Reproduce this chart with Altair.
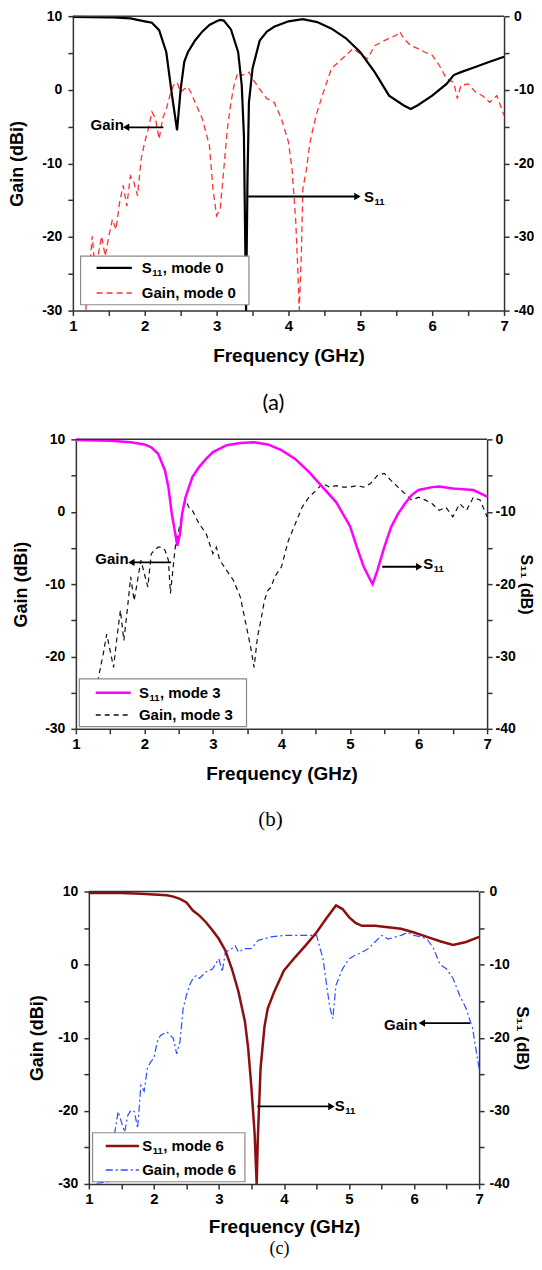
import altair as alt
import pandas as pd

FONT = "Liberation Sans"
AXC = "#333333"

# ---------------- data: panel (a), mode 0 ----------------
a_s11_f = [1.0, 1.5, 1.8, 2.0, 2.1, 2.2, 2.3, 2.38, 2.45, 2.5, 2.55, 2.6, 2.7, 2.8, 2.9, 3.0, 3.05,
           3.1, 3.2, 3.3, 3.35, 3.38, 3.41, 3.43, 3.45, 3.5, 3.6, 3.7, 3.8, 4.0, 4.2, 4.4, 4.6, 4.8,
           5.0, 5.2, 5.4, 5.6, 5.7, 5.8, 6.0, 6.2, 6.3, 6.4, 6.6, 6.8, 7.0]
a_s11 = [-0.1, -0.15, -0.3, -0.7, -0.9, -1.9, -4.9, -10.8, -15.5, -9.9, -6.2, -4.9, -3.3, -2.1, -1.2,
         -0.7, -0.5, -0.6, -1.8, -4.9, -9.4, -16.2, -40.0, -22.0, -11.7, -7.1, -3.3, -2.1, -1.45, -0.7,
         -0.4, -0.8, -1.7, -3.0, -4.9, -7.6, -10.8, -12.1, -12.6, -12.1, -10.8, -9.2, -8.0, -7.6, -6.9,
         -6.2, -5.5]
a_gain_f = [1.18, 1.27, 1.3, 1.35, 1.4, 1.45, 1.5, 1.55, 1.6, 1.65, 1.7, 1.75, 1.8, 1.85, 1.9, 1.95,
            2.0, 2.05, 2.1, 2.15, 2.2, 2.25, 2.3, 2.35, 2.4, 2.45, 2.5, 2.55, 2.6, 2.65, 2.7, 2.8, 2.9,
            2.95, 3.0, 3.05, 3.1, 3.15, 3.2, 3.25, 3.3, 3.35, 3.45, 3.5, 3.6, 3.7, 3.8, 3.9, 4.0, 4.05,
            4.1, 4.13, 4.15, 4.18, 4.2, 4.25, 4.3, 4.35, 4.4, 4.5, 4.6, 4.7, 4.8, 4.9, 5.0, 5.1, 5.2,
            5.3, 5.4, 5.5, 5.55, 5.6, 5.7, 5.8, 5.9, 6.0, 6.1, 6.2, 6.3, 6.35, 6.4, 6.5, 6.6, 6.7, 6.8,
            6.9, 7.0]
a_gain = [-29.9, -19.9, -23.5, -22.6, -19.9, -22.6, -19.9, -17.6, -19.0, -15.3, -13.0, -15.8, -11.7,
          -12.6, -14.4, -9.4, -7.1, -5.3, -3.0, -3.9, -6.7, -3.9, -2.6, -0.8, 0.6, 1.0, -0.3, 0.1, 0.4,
          -0.5, -1.7, -3.9, -7.6, -13.5, -17.1, -16.2, -10.8, -5.3, -1.7, 1.0, 2.4, 1.95, 2.4, 1.5, 0.1,
          -1.2, -1.7, -3.9, -7.1, -10.8, -17.6, -24.4, -29.9, -22.1, -13.5, -10.8, -7.1, -4.9, -3.0,
          0.1, 2.9, 3.8, 4.7, 5.6, 4.9, 4.2, 6.0, 6.5, 7.0, 7.4, 7.9, 7.0, 6.0, 5.6, 5.1, 4.7, 3.3, 1.5,
          1.0, -1.2, 0.6, 0.8, -0.3, -0.8, -1.7, -0.8, -3.5]

# ---------------- data: panel (b), mode 3 ----------------
b_s11_f = [1.0, 1.5, 1.8, 2.0, 2.1, 2.2, 2.3, 2.35, 2.4, 2.45, 2.48, 2.52, 2.55, 2.6, 2.7, 2.8, 2.9,
           3.0, 3.2, 3.4, 3.6, 3.8, 4.0, 4.2, 4.4, 4.6, 4.8, 5.0, 5.1, 5.2, 5.3, 5.33, 5.4, 5.5, 5.6,
           5.7, 5.8, 5.9, 6.0, 6.2, 6.3, 6.5, 6.8, 7.0]
b_s11 = [-0.1, -0.2, -0.4, -0.7, -1.1, -2.0, -4.3, -6.6, -10.3, -13.0, -14.7, -13.0, -10.3, -8.0,
         -5.2, -3.8, -2.7, -1.75, -0.8, -0.5, -0.4, -0.7, -1.5, -2.7, -4.5, -6.6, -8.7, -12.0, -14.9,
         -17.6, -19.5, -20.0, -18.1, -14.9, -12.1, -10.3, -8.9, -7.7, -7.0, -6.6, -6.5, -6.8, -7.0,
         -7.9]
b_gain_f = [1.3, 1.33, 1.4, 1.45, 1.5, 1.55, 1.6, 1.65, 1.7, 1.75, 1.8, 1.85, 1.9, 1.95, 2.0, 2.05,
            2.1, 2.15, 2.2, 2.25, 2.3, 2.35, 2.38, 2.42, 2.45, 2.5, 2.55, 2.6, 2.65, 2.7, 2.8, 2.9,
            3.0, 3.05, 3.1, 3.2, 3.3, 3.4, 3.5, 3.55, 3.6, 3.65, 3.7, 3.75, 3.8, 3.85, 3.9, 4.0, 4.1,
            4.2, 4.3, 4.4, 4.5, 4.6, 4.7, 4.8, 4.9, 5.0, 5.1, 5.2, 5.3, 5.4, 5.5, 5.6, 5.7, 5.8, 5.9,
            6.0, 6.1, 6.2, 6.3, 6.4, 6.5, 6.6, 6.7, 6.8, 6.9, 7.0]
b_gain = [-26.0, -22.9, -19.6, -16.9, -19.2, -21.5, -17.3, -13.6, -17.8, -13.6, -9.0, -12.3, -9.5,
          -6.7, -8.6, -10.4, -5.8, -5.3, -4.9, -4.9, -5.3, -6.7, -11.3, -7.6, -4.9, -2.6, -0.3, 1.6,
          0.6, 0.2, -1.7, -3.0, -5.8, -4.9, -6.7, -8.1, -9.5, -11.8, -16.4, -18.7, -21.5, -17.3,
          -15.0, -12.3, -10.9, -10.4, -9.0, -7.6, -4.0, -1.7, 0.6, 2.0, 2.9, 3.9, 3.4, 3.6, 3.4, 3.4,
          3.6, 3.4, 3.9, 5.0, 5.3, 4.3, 3.4, 2.5, 1.6, 2.0, 1.6, 1.1, 0.2, 0.6, -0.7, 1.1, 0.2, 2.0,
          1.6, -0.7]

# ---------------- data: panel (c), mode 6 ----------------
c_s11_f = [1.0, 1.5, 1.8, 2.0, 2.2, 2.3, 2.4, 2.5, 2.6, 2.7, 2.8, 2.9, 3.0, 3.1, 3.2, 3.3, 3.4, 3.45,
           3.5, 3.55, 3.58, 3.6, 3.64, 3.7, 3.75, 3.85, 4.0, 4.17, 4.33, 4.5, 4.65, 4.8, 4.9, 5.0,
           5.1, 5.2, 5.4, 5.6, 5.8, 6.0, 6.2, 6.4, 6.6, 6.7, 6.8, 7.0]
c_s11 = [-0.2, -0.2, -0.3, -0.4, -0.5, -0.7, -1.0, -1.5, -2.6, -3.3, -4.2, -5.3, -6.5, -8.1, -10.6,
         -13.7, -17.8, -21.5, -26.9, -33.3, -40.0, -33.3, -24.2, -18.5, -16.0, -13.7, -10.8, -9.0,
         -7.4, -5.6, -3.7, -1.9, -2.4, -3.5, -4.3, -4.7, -4.7, -4.9, -5.1, -5.6, -6.2, -6.8, -7.3,
         -7.1, -6.9, -6.2]
c_gain_f = [1.12, 1.3, 1.4, 1.45, 1.5, 1.55, 1.6, 1.65, 1.7, 1.75, 1.8, 1.85, 1.9, 1.95, 2.0, 2.05,
            2.1, 2.2, 2.3, 2.35, 2.4, 2.45, 2.5, 2.55, 2.6, 2.65, 2.7, 2.8, 2.9, 3.0, 3.05, 3.1, 3.2,
            3.25, 3.3, 3.4, 3.5, 3.6, 3.8, 4.0, 4.2, 4.4, 4.5, 4.6, 4.7, 4.75, 4.8, 4.9, 5.0, 5.1,
            5.2, 5.3, 5.4, 5.5, 5.6, 5.8, 5.9, 6.0, 6.1, 6.2, 6.3, 6.4, 6.5, 6.6, 6.7, 6.8, 6.85,
            6.9, 6.95, 7.0]
c_gain = [-29.9, -29.7, -22.9, -20.1, -21.5, -22.9, -20.6, -19.9, -20.1, -22.4, -16.5, -17.3, -14.2,
          -13.3, -12.8, -10.6, -9.7, -9.2, -10.1, -12.2, -10.6, -6.0, -4.2, -2.8, -1.9, -1.5, -1.9,
          -1.0, -0.6, 0.8, -1.0, 1.7, 2.2, 2.6, 1.7, 2.2, 2.2, 3.3, 3.8, 4.0, 4.0, 4.0, 4.0, 0.8,
          -5.6, -7.4, -2.8, -0.6, 0.8, 1.3, 1.7, 2.2, 3.1, 4.0, 3.5, 4.0, 4.4, 4.0, 3.8, 3.5, 2.2,
          0.0, -0.6, -1.9, -4.2, -6.0, -7.4, -8.7, -11.5, -14.2]

# ---------------- axis tick values ----------------
x_ticks = [1 + 0.5 * i for i in range(13)]
gain_ticks = list(range(-30, 11, 5))
s11_ticks = list(range(-40, 1, 5))

S11_TITLE = "S\u2081\u2081 (dB)"

PANELS = [
    dict(s11_f=a_s11_f, s11=a_s11, gain_f=a_gain_f, gain=a_gain, mode="0",
         w=432, h=295, shift=0, tpl=14.8, tpr=6, lpr=4.5, rtitle=None, rtsize=18, xtp=13,
         s11_color="#000000", s11_width=2.2, gain_color="#ff3030", gain_dash=[6, 4], gain_width=1.3,
         box=(1.107, 3.45, -22.6, -29.2), lines=(1.33, 1.82, -24.2, -27.6), ltext=1.96,
         gtext=(1.71, -4.8), garrow=(2.26, 1.74, -5.1), sarrow=(3.44, 4.96, -14.5), stext=(5.05, -14.6),
         cap="(a)", cap_font="Lato", cap_size=22, cap_x=201, cap_y=388, top_pad=None),
    dict(s11_f=b_s11_f, s11=b_s11, gain_f=b_gain_f, gain=b_gain, mode="3",
         w=415, h=290, shift=3, tpl=13.8, tpr=2, lpr=3, rtitle=S11_TITLE, rtsize=16, xtp=13,
         s11_color="#ff00ff", s11_width=2.5, gain_color="#111111", gain_dash=[5, 4], gain_width=1.2,
         box=(1.05, 3.49, -23.1, -29.7), lines=(1.29, 1.80, -25.0, -28.1), ltext=1.92,
         gtext=(1.77, -6.6), garrow=(2.39, 1.81, -7.0), sarrow=(5.47, 6.01, -7.6), stext=(6.07, -7.2),
         cap="(b)", cap_font="Liberation Serif", cap_size=21, cap_x=198, cap_y=381, top_pad=None),
    dict(s11_f=c_s11_f, s11=c_s11, gain_f=c_gain_f, gain=c_gain, mode="6",
         w=407, h=293, shift=16, tpl=10.8, tpr=3, lpr=5, rtitle=S11_TITLE, rtsize=17, xtp=11,
         s11_color="#8b1010", s11_width=2.5, gain_color="#2b4cff", gain_dash=[7, 3, 2, 3], gain_width=1.2,
         box=(1.057, 3.40, -23.0, -29.7), lines=(1.26, 1.77, -24.8, -28.1), ltext=1.82,
         gtext=(6.05, -8.2), garrow=(6.86, 6.12, -8.0), sarrow=(3.59, 4.73, -19.4), stext=(4.78, -19.4),
         cap="(c)", cap_font="Liberation Serif", cap_size=18, cap_x=207, cap_y=358, top_pad=43.5),
]

GAIN_SCALE = alt.Scale(domain=[-30, 10], nice=False, zero=False)
S11_SCALE = alt.Scale(domain=[-40, 0], nice=False, zero=False)


def make_panel(p):
    shift, w, h = p["shift"], p["w"], p["h"]
    xs = alt.Scale(domain=[1, 7], range=[shift, w], nice=False, zero=False)
    xaxis = alt.Axis(values=x_ticks, labelExpr="datum.value % 1 === 0 ? '' + datum.value : ''",
                     title="Frequency (GHz)", tickSize=5, labelPadding=3, titlePadding=p["xtp"],
                     labelFontSize=15, titleFontSize=19,
                     labelFlush=False, labelOverlap=False)
    X = alt.X("f:Q", scale=xs, axis=xaxis)
    Yg = alt.Y("v:Q", scale=GAIN_SCALE, axis=None)

    g_df = pd.DataFrame({"f": p["gain_f"], "v": p["gain"]})
    s_df = pd.DataFrame({"f": p["s11_f"], "v": p["s11"]})

    gain_line = alt.Chart(g_df).mark_line(
        color=p["gain_color"], strokeWidth=p["gain_width"], strokeDash=p["gain_dash"]
    ).encode(
        x=X,
        y=alt.Y("v:Q", scale=GAIN_SCALE,
                axis=alt.Axis(orient="left", values=gain_ticks,
                              labelExpr="datum.value % 10 === 0 ? '' + datum.value : ''",
                              title="Gain (dBi)", tickSize=5, labelPadding=6,
                              titlePadding=p["tpl"], offset=-shift, titleFontSize=18,
                              labelFlush=False, labelOverlap=False)),
    )
    s11_line = alt.Chart(s_df).mark_line(
        color=p["s11_color"], strokeWidth=p["s11_width"]
    ).encode(
        x=X,
        y=alt.Y("v:Q", scale=S11_SCALE,
                axis=alt.Axis(orient="right", values=s11_ticks,
                              labelExpr="datum.value % 10 === 0 ? '' + datum.value : ''",
                              title=p["rtitle"], tickSize=5, labelPadding=p["lpr"],
                              titlePadding=p["tpr"], titleFontSize=p["rtsize"],
                              labelFlush=False, labelOverlap=False)),
    )

    frame = alt.Chart(pd.DataFrame({"f": [1], "f2": [7], "v": [10]})).mark_rule(
        color=AXC, strokeWidth=1.5).encode(x=X, x2="f2:Q", y=Yg)

    ga, sa = p["garrow"], p["sarrow"]
    arrows = alt.Chart(pd.DataFrame({"f": [ga[0], sa[0]], "f2": [ga[1], sa[1]], "v": [ga[2], sa[2]]})
                       ).mark_rule(color="black", strokeWidth=1.8).encode(x=X, x2="f2:Q", y=Yg)
    head_l = alt.Chart(pd.DataFrame({"f": [ga[1]], "v": [ga[2]]})).mark_point(
        shape="triangle-left", filled=True, size=55, color="black", opacity=1).encode(x=X, y=Yg)
    head_r = alt.Chart(pd.DataFrame({"f": [sa[1]], "v": [sa[2]]})).mark_point(
        shape="triangle-right", filled=True, size=55, color="black", opacity=1).encode(x=X, y=Yg)

    bx = p["box"]
    box = alt.Chart(pd.DataFrame({"f": [bx[0]], "f2": [bx[1]], "v": [bx[2]], "v2": [bx[3]]})
                    ).mark_rect(fill="white", stroke="#8a8a8a", strokeWidth=1.2).encode(
        x=X, x2="f2:Q", y=Yg, y2="v2:Q")
    ln = p["lines"]
    leg_s = alt.Chart(pd.DataFrame({"f": [ln[0]], "f2": [ln[1]], "v": [ln[2]]})).mark_rule(
        color=p["s11_color"], strokeWidth=p["s11_width"]).encode(x=X, x2="f2:Q", y=Yg)
    leg_g = alt.Chart(pd.DataFrame({"f": [ln[0]], "f2": [ln[1]], "v": [ln[3]]})).mark_rule(
        color=p["gain_color"], strokeWidth=p["gain_width"] + 0.2, strokeDash=p["gain_dash"]).encode(
        x=X, x2="f2:Q", y=Yg)

    txt = dict(font=FONT, fontWeight="bold", color="black", baseline="middle")
    st = p["stext"]
    s_main = alt.Chart(pd.DataFrame({"f": [p["ltext"], st[0]], "v": [ln[2], st[1]],
                                     "t": ["S", "S"]})).mark_text(
        align="left", fontSize=15, **txt).encode(x=X, y=Yg, text="t:N")
    s_sub = alt.Chart(pd.DataFrame({"f": [p["ltext"], st[0]], "v": [ln[2], st[1]],
                                    "t": ["11", "11"]})).mark_text(
        align="left", fontSize=9.5, dx=10.5, dy=5, **txt).encode(x=X, y=Yg, text="t:N")
    s_rest = alt.Chart(pd.DataFrame({"f": [p["ltext"]], "v": [ln[2]],
                                     "t": [", mode " + p["mode"]]})).mark_text(
        align="left", fontSize=15, dx=21, **txt).encode(x=X, y=Yg, text="t:N")
    g_leg = alt.Chart(pd.DataFrame({"f": [p["ltext"]], "v": [ln[3]],
                                    "t": ["Gain, mode " + p["mode"]]})).mark_text(
        align="left", fontSize=15, **txt).encode(x=X, y=Yg, text="t:N")
    gt = p["gtext"]
    g_ann = alt.Chart(pd.DataFrame({"f": [gt[0]], "v": [gt[1]], "t": ["Gain"]})).mark_text(
        align="right", fontSize=15, **txt).encode(x=X, y=Yg, text="t:N")

    cap = alt.Chart(pd.DataFrame({"t": [p["cap"]]})).mark_text(
        font=p["cap_font"], fontSize=p["cap_size"], color="black", align="center",
        baseline="middle").encode(x=alt.value(p["cap_x"]), y=alt.value(p["cap_y"]), text="t:N")

    layers = [gain_line, s11_line, frame, arrows, head_l, head_r, box, leg_s, leg_g,
              s_main, s_sub, s_rest, g_leg, g_ann, cap]
    if p["top_pad"] is not None:
        spacer = alt.Chart(pd.DataFrame({"t": ["."]})).mark_text(
            fontSize=14, opacity=0, baseline="top", align="center").encode(
            x=alt.value(20), y=alt.value(-p["top_pad"]), text="t:N")
        layers.append(spacer)

    return alt.layer(*layers).resolve_scale(y="independent").properties(width=w, height=h)


chart = alt.vconcat(*[make_panel(p) for p in PANELS], spacing=18).properties(
    padding=0, background="white"
).configure_view(stroke=None).configure_axis(
    domainColor=AXC, tickColor=AXC, domainWidth=1.5, tickWidth=1.5, grid=False,
    labelFont=FONT, labelFontWeight="bold", labelFontSize=14, labelColor="black",
    titleFont=FONT, titleFontWeight="bold", titleFontSize=18, titleColor="black",
)

chart.save("out.html", embed_options={"renderer": "svg", "actions": False})
